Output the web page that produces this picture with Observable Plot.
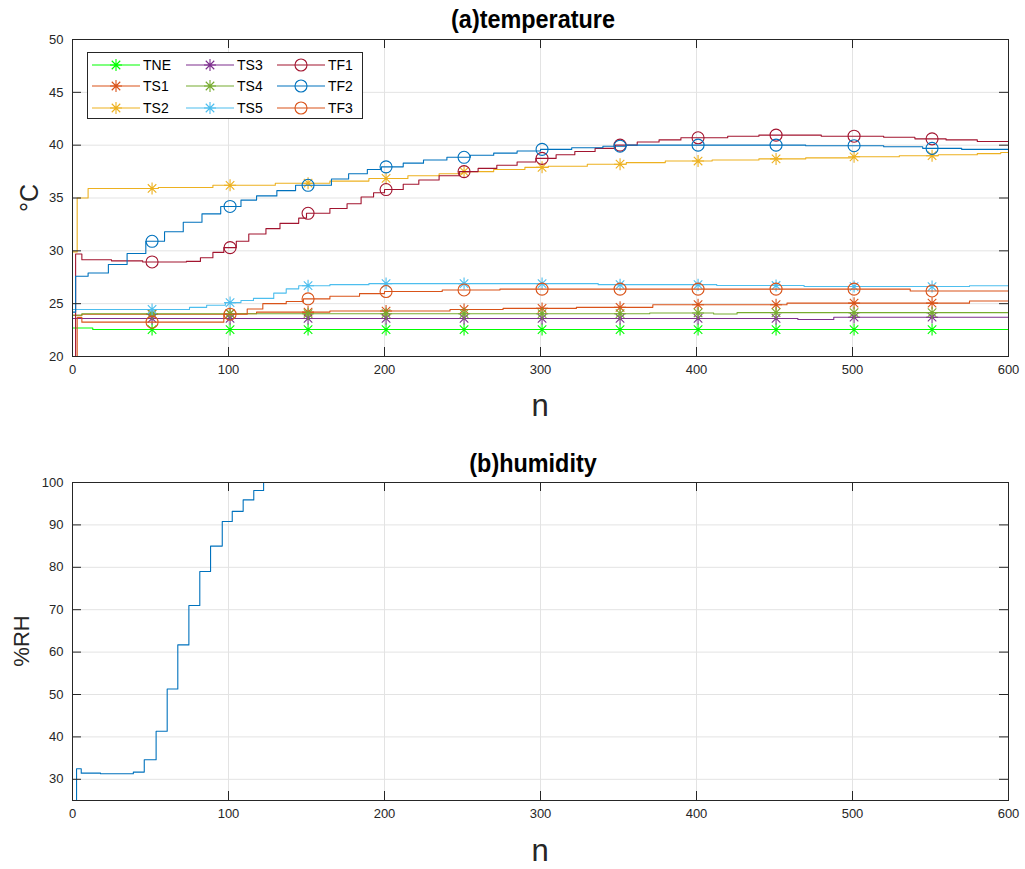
<!DOCTYPE html>
<html>
<head>
<meta charset="utf-8">
<script src="https://cdn.jsdelivr.net/npm/d3@7"></script>
<script src="https://cdn.jsdelivr.net/npm/@observablehq/plot@0.6"></script>
<style>
  html, body { margin: 0; padding: 0; background: #fff; }
  #wrap { position: relative; width: 1025px; height: 869px; font-family: "Liberation Sans", Arial, sans-serif; color: #000; }
  #wrap svg.plot { position: absolute; left: 0; }
  .lbl { position: absolute; transform: translate(-50%, -50%); white-space: nowrap; color: #262626; }
  .ttl { position: absolute; transform: translate(-50%, -50%) scaleX(0.9); white-space: nowrap; font-weight: bold; color: #000; }
</style>
</head>
<body>
<div id="wrap"></div>
<script>
// ---------------- data ----------------
const xTicks = [0, 100, 200, 300, 400, 500, 600];
const tempTicks = [20, 25, 30, 35, 40, 45, 50];
const humTicks = [30, 40, 50, 60, 70, 80, 90, 100];
const markerN = [51, 101, 151, 201, 251, 301, 351, 401, 451, 501, 551];

const seriesNames = ["TNE", "TS1", "TS2", "TS3", "TS4", "TS5", "TF1", "TF2", "TF3"];
const seriesColors = ["#00ff00", "#d95319", "#edb120", "#7e2f8e", "#77ac30", "#4dbeee", "#a2142f", "#0072bd", "#d95319"];
const seriesMarkers = ["star", "star", "star", "star", "star", "star", "circle", "circle", "circle"];

// [n, value] breakpoints (step after)
const TNE = [[0,22.7],[13,22.55],[600,22.55]];
const TS1 = [[0,23.9],[6,24.0],[97,24.05],[118,24.2],[165,24.3],[242,24.45],[276,24.55],[323,24.65],[372,24.9],[458,25.05],[575,25.25],[600,25.25]];
const TS2 = [[0,29.9],[3,35.0],[10,35.9],[55,36.0],[90,36.2],[130,36.4],[165,36.6],[190,36.85],[215,37.1],[235,37.3],[250,37.5],[270,37.7],[290,37.9],[305,38.0],[330,38.2],[355,38.35],[380,38.5],[410,38.6],[440,38.7],[470,38.8],[500,38.9],[530,39.0],[555,39.1],[580,39.2],[595,39.3],[600,39.3]];
const TS3 = [[0,23.6],[465,23.5],[488,23.72],[600,23.72]];
const TS4 = [[0,23.9],[6,24.05],[370,24.12],[411,24.02],[426,24.15],[600,24.15]];
const TS5 = [[0,24.45],[75,24.65],[86,24.85],[98,25.1],[108,25.3],[116,25.5],[129,26.0],[137,26.4],[145,26.7],[165,26.8],[190,26.9],[337,26.8],[413,26.72],[469,26.62],[575,26.7],[600,26.75]];
const TF1 = [[0,20],[2,29.7],[6,29.15],[25,29.05],[45,28.95],[73,29.0],[82,29.35],[90,29.85],[97,30.3],[105,30.9],[113,31.6],[124,32.1],[133,32.6],[145,33.1],[150,33.55],[165,34.0],[176,34.45],[185,35.1],[193,35.5],[200,35.8],[212,36.3],[222,36.7],[235,37.1],[248,37.5],[260,37.8],[272,38.1],[285,38.4],[297,38.75],[310,39.1],[322,39.4],[335,39.7],[348,40.0],[362,40.3],[376,40.5],[390,40.7],[420,40.85],[440,40.95],[480,40.85],[520,40.75],[540,40.6],[560,40.5],[580,40.35],[600,40.3]];
const TF2 = [[0,24.2],[2,27.6],[10,27.9],[23,28.7],[35,29.75],[47,30.9],[59,31.8],[71,32.7],[83,33.5],[95,34.2],[108,34.8],[118,35.2],[131,35.7],[143,36.2],[166,36.8],[177,37.3],[189,37.7],[198,37.95],[212,38.3],[225,38.6],[240,38.85],[255,39.05],[270,39.25],[285,39.45],[300,39.6],[320,39.75],[340,39.9],[355,40.0],[470,39.95],[520,39.85],[545,39.7],[570,39.6],[600,39.6]];
const TF3 = [[0,20],[3,23.7],[6,23.25],[97,24.0],[112,24.5],[122,25.0],[137,25.2],[148,25.45],[165,25.7],[184,25.95],[200,26.15],[237,26.3],[274,26.38],[537,26.2],[600,26.2]];
const seriesData = [TNE, TS1, TS2, TS3, TS4, TS5, TF1, TF2, TF3];

const RH = [[0,25],[2.6,32.5],[5.6,31.45],[18,31.3],[39,31.7],[46,34.6],[53.6,41.35],[60.7,51.3],[67.5,61.7],[74.6,71.0],[81.6,79.0],[88.5,85.0],[96,90.8],[102.4,93.2],[109.4,95.9],[116.2,98.1],[122.5,100],[600,100]];

// ---------------- helpers ----------------
const starSymbol = {
  draw(ctx, size) {
    const r = Math.sqrt(size / Math.PI);
    const d = r * Math.SQRT1_2;
    ctx.moveTo(-r, 0); ctx.lineTo(r, 0);
    ctx.moveTo(0, -r); ctx.lineTo(0, r);
    ctx.moveTo(-d, -d); ctx.lineTo(d, d);
    ctx.moveTo(-d, d); ctx.lineTo(d, -d);
  }
};
function valueAt(series, n) {
  let v = series[0][1];
  for (const [sn, sv] of series) { if (sn <= n) v = sv; else break; }
  return v;
}

const W = 1025, ML = 72, MR = 17;
const font = '"Liberation Sans", Arial, sans-serif';
const frameColor = "#262626";
const gridColor = "#e3e3e3";
const TICK = 9;

function frameMarks(yTicks, plotW, plotH) {
  return [
    Plot.tickX(xTicks, {x: d => d, insetTop: plotH - TICK, stroke: frameColor}),
    Plot.tickX(xTicks, {x: d => d, insetBottom: plotH - TICK, stroke: frameColor}),
    Plot.tickY(yTicks, {y: d => d, insetRight: plotW - TICK, stroke: frameColor}),
    Plot.tickY(yTicks, {y: d => d, insetLeft: plotW - TICK, stroke: frameColor}),
    Plot.axisX(xTicks, {tickSize: 0, tickPadding: 8, label: null, fontSize: 13, color: frameColor}),
    Plot.axisY(yTicks, {tickSize: 0, tickPadding: 9, label: null, fontSize: 13, color: frameColor}),
    Plot.frame({stroke: frameColor, strokeWidth: 1})
  ];
}

const wrap = document.getElementById("wrap");

// ---------------- top: temperature ----------------
{
  const H = 430, MT = 39, MB = 74;
  const plotW = W - ML - MR, plotH = H - MT - MB;
  const marks = [
    Plot.gridX(xTicks, {stroke: gridColor, strokeOpacity: 1}),
    Plot.gridY(tempTicks, {stroke: gridColor, strokeOpacity: 1})
  ];
  seriesData.forEach((s, i) => {
    marks.push(Plot.line(s, {x: d => d[0], y: d => d[1], curve: "step-after", stroke: seriesColors[i], strokeWidth: 1.1}));
    const pts = markerN.map(n => ({n, v: valueAt(s, n)}));
    if (seriesMarkers[i] === "star") {
      marks.push(Plot.dot(pts, {x: "n", y: "v", symbol: starSymbol, r: 6, fill: "none", stroke: seriesColors[i], strokeWidth: 1.1}));
    } else {
      marks.push(Plot.dot(pts, {x: "n", y: "v", symbol: "circle", r: 6, fill: "none", stroke: seriesColors[i], strokeWidth: 1.1}));
    }
  });
  marks.push(...frameMarks(tempTicks, plotW, plotH));
  const p = Plot.plot({
    width: W, height: H, marginLeft: ML, marginRight: MR, marginTop: MT, marginBottom: MB,
    x: {domain: [0, 600]}, y: {domain: [20, 50]},
    style: {fontFamily: font, fontSize: "13px", background: "transparent", overflow: "visible"},
    marks
  });
  p.classList.add("plot");
  p.style.top = "0px";
  wrap.appendChild(p);
}

// ---------------- bottom: humidity ----------------
{
  const TOP = 430, H = 439, MT = 52, MB = 69;
  const plotW = W - ML - MR, plotH = H - MT - MB;
  const marks = [
    Plot.gridX(xTicks, {stroke: gridColor, strokeOpacity: 1}),
    Plot.gridY(humTicks, {stroke: gridColor, strokeOpacity: 1}),
    Plot.line(RH, {x: d => d[0], y: d => d[1], curve: "step-after", stroke: "#0072bd", strokeWidth: 1.1}),
    ...frameMarks(humTicks, plotW, plotH)
  ];
  const p = Plot.plot({
    width: W, height: H, marginLeft: ML, marginRight: MR, marginTop: MT, marginBottom: MB,
    x: {domain: [0, 600]}, y: {domain: [25, 100]},
    style: {fontFamily: font, fontSize: "13px", background: "transparent", overflow: "visible"},
    marks
  });
  p.classList.add("plot");
  p.style.top = TOP + "px";
  wrap.appendChild(p);
}

// ---------------- titles / labels ----------------
function addText(cls, text, x, y, size, rotate) {
  const d = document.createElement("div");
  d.className = cls;
  d.textContent = text;
  d.style.left = x + "px";
  d.style.top = y + "px";
  d.style.fontSize = size + "px";
  if (rotate) d.style.transform = "translate(-50%, -50%) rotate(-90deg)";
  wrap.appendChild(d);
}
addText("ttl", "(a)temperature", 533, 19, 26);
addText("ttl", "(b)humidity", 533, 463, 26);
addText("lbl", "n", 540, 406, 31);
addText("lbl", "n", 540, 851, 31);
addText("lbl", "°C", 29, 198, 25, true);
addText("lbl", "%RH", 22, 641, 22, true);

// ---------------- legend ----------------
{
  const lx = 87, ly = 52, lw = 276, lh = 67;
  const svg = d3.create("svg").attr("width", lw).attr("height", lh)
    .style("position", "absolute").style("left", lx + "px").style("top", ly + "px")
    .style("font-family", font).style("font-size", "14px");
  svg.append("rect").attr("x", 0.5).attr("y", 0.5).attr("width", lw - 1).attr("height", lh - 1)
    .attr("fill", "#fff").attr("stroke", frameColor).attr("stroke-width", 1);
  const colX = [5, 99, 190];
  const rowY = [13, 34, 56];
  seriesNames.forEach((name, i) => {
    const c = Math.floor(i / 3), r = i % 3;
    const x0 = colX[c], y = rowY[r];
    const g = svg.append("g");
    g.append("line").attr("x1", x0).attr("x2", x0 + 48).attr("y1", y).attr("y2", y)
      .attr("stroke", seriesColors[i]).attr("stroke-width", 1.1);
    const mx = x0 + 24;
    if (seriesMarkers[i] === "star") {
      const path = d3.path(); starSymbol.draw(path, Math.PI * 6 * 6);
      g.append("path").attr("d", path.toString()).attr("transform", `translate(${mx},${y})`)
        .attr("stroke", seriesColors[i]).attr("fill", "none").attr("stroke-width", 1.1);
    } else {
      g.append("circle").attr("cx", mx).attr("cy", y).attr("r", 6)
        .attr("stroke", seriesColors[i]).attr("fill", "none").attr("stroke-width", 1.1);
    }
    g.append("text").attr("x", x0 + 51).attr("y", y).attr("dy", "0.35em").attr("fill", "#000").text(name);
  });
  wrap.appendChild(svg.node());
}
</script>
</body>
</html>
